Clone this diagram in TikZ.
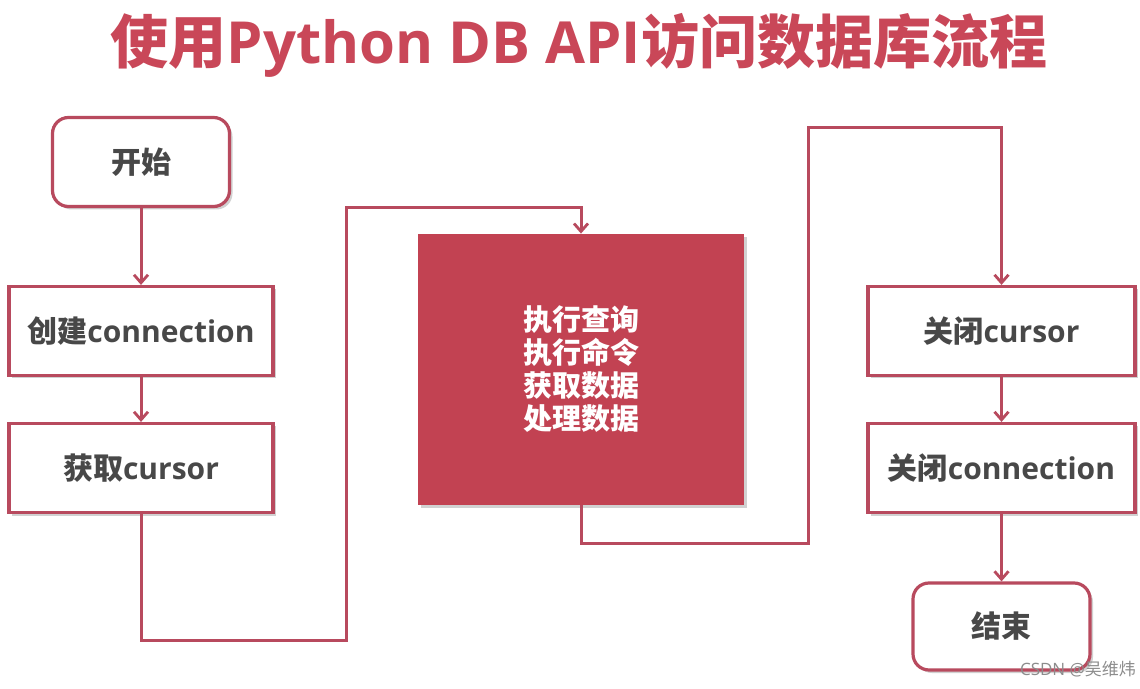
\documentclass[tikz,border=0pt]{standalone}
\usepackage{fontspec}
\setmainfont{Open Sans}
\newfontfamily\cjk{Noto Sans CJK SC}
\usetikzlibrary{arrows.meta,shadows}
\definecolor{lc}{RGB}{184,74,94}
\definecolor{tc}{RGB}{201,71,88}
\definecolor{bf}{RGB}{194,66,82}
\definecolor{txt}{RGB}{72,72,72}
\newcommand{\zh}[1]{{\cjk #1}}
\tikzset{
  box/.style={draw=lc, line width=1.6pt, fill=white, minimum width=132pt, minimum height=44.5pt,
    inner sep=0pt, font=\bfseries\fontsize{15}{18}\selectfont, text=txt,
    drop shadow={shadow xshift=1.5pt, shadow yshift=-1.5pt, opacity=0.18, fill=black}},
  rbox/.style={box, rounded corners=8pt, minimum width=88.5pt},
  cbox/.style={fill=bf, draw=none, minimum width=163pt, minimum height=135.5pt, inner sep=0pt,
    text=white, align=center, font=\bfseries\fontsize{14.5}{16.5}\selectfont,
    drop shadow={shadow xshift=1.5pt, shadow yshift=-1.5pt, opacity=0.18, fill=black}},
  arr/.style={draw=lc, line width=1.5pt, -{Straight Barb[length=4pt,width=7pt,line width=1.4pt]}}
}
\begin{document}
\begin{tikzpicture}[x=0.5pt,y=-0.5pt]
\useasboundingbox (0,0) rectangle (1140,689);
\fill[white] (0,0) rectangle (1140,689);
\node[text=tc, font=\bfseries\fontsize{29}{33}\selectfont, inner sep=0pt] (title) at (579,45)
  {\zh{使用}Python DB API\zh{访问数据库流程}};
\node[rbox] (start) at (141,162) {\zh{开始}};
\node[box] (conn) at (141,331) {\zh{创建}connection};
\node[box] (cur) at (141,468) {\zh{获取}cursor};
\node[cbox] (proc) at (581,369.5) {\zh{执行查询}\\ \zh{执行命令}\\ \zh{获取数据}\\ \zh{处理数据}};
\node[box, minimum width=133.5pt] (ccur) at (1001.5,331) {\zh{关闭}cursor};
\node[box, minimum width=133.5pt] (cconn) at (1001.5,468) {\zh{关闭}connection};
\node[rbox, minimum height=43.5pt] (end) at (1001.5,626.5) {\zh{结束}};
\coordinate (a1) at (346,640);
\coordinate (a2) at (346,208);
\coordinate (b1) at (808,543);
\coordinate (b2) at (808,128);
\draw[arr] (start) -- (conn);
\draw[arr] (conn) -- (cur);
\draw[arr] (cur.south) |- (a1) -- (a2) -| (proc.north);
\draw[arr] (proc.south) |- (b1) -- (b2) -| (ccur.north);
\draw[arr] (ccur) -- (cconn);
\draw[arr] (cconn) -- (end);
\node[text=black!45, font=\fontsize{8.5}{10}\selectfont, inner sep=0pt] (wm) at (1078,669) {CSDN @\zh{吴维炜}};
\end{tikzpicture}
\end{document}
